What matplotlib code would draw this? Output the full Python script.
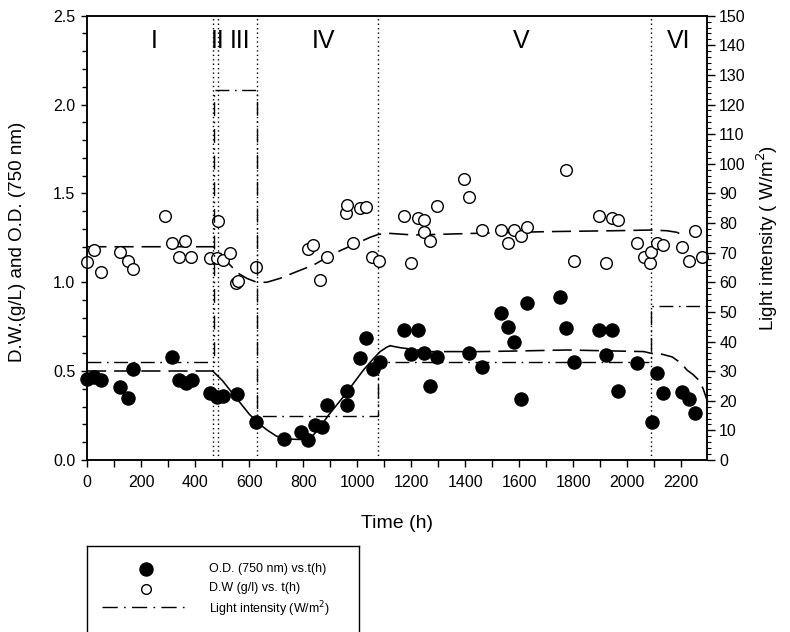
import matplotlib
matplotlib.use("Agg")
import matplotlib.pyplot as plt
from matplotlib.lines import Line2D
from matplotlib.ticker import MultipleLocator

plt.rcParams['font.family'] = ['Liberation Sans', 'DejaVu Sans']

# ---------------- data ----------------
od_t = [0, 25, 50, 121, 150, 168, 313, 338, 366, 388, 455, 480, 504, 554, 624,
        727, 792, 817, 842, 869, 888, 962, 964, 1009, 1032, 1057, 1083, 1174,
        1199, 1224, 1246, 1271, 1296, 1415, 1462, 1534, 1557, 1582, 1607, 1630,
        1750, 1775, 1803, 1895, 1921, 1944, 1965, 2037, 2093, 2109, 2134, 2205,
        2230, 2253]
od_v = [0.454, 0.469, 0.45, 0.409, 0.347, 0.512, 0.581, 0.45, 0.435, 0.45,
        0.375, 0.356, 0.36, 0.37, 0.212, 0.116, 0.156, 0.113, 0.197, 0.187,
        0.31, 0.39, 0.31, 0.572, 0.688, 0.512, 0.55, 0.732, 0.595, 0.732, 0.604,
        0.418, 0.581, 0.6, 0.525, 0.829, 0.747, 0.666, 0.343, 0.882, 0.915,
        0.743, 0.551, 0.732, 0.591, 0.732, 0.388, 0.544, 0.214, 0.491, 0.379,
        0.384, 0.343, 0.266]

dw_t = [0, 23, 50, 121, 150, 168, 288, 313, 341, 362, 384, 455, 480, 486, 504,
        527, 552, 558, 624, 817, 838, 863, 888, 959, 962, 984, 1009, 1032, 1054,
        1082, 1174, 1199, 1224, 1246, 1246, 1271, 1296, 1394, 1415, 1462, 1534,
        1557, 1582, 1607, 1630, 1775, 1803, 1895, 1921, 1944, 1965, 2037, 2062,
        2086, 2089, 2109, 2134, 2205, 2230, 2253, 2278]
dw_v = [1.112, 1.18, 1.06, 1.172, 1.12, 1.075, 1.373, 1.223, 1.144, 1.234,
        1.144, 1.135, 1.135, 1.345, 1.125, 1.163, 0.994, 1.005, 1.084, 1.186,
        1.21, 1.013, 1.14, 1.388, 1.435, 1.223, 1.416, 1.422, 1.144, 1.12,
        1.373, 1.11, 1.36, 1.35, 1.281, 1.234, 1.431, 1.581, 1.482, 1.294,
        1.294, 1.223, 1.294, 1.26, 1.31, 1.632, 1.12, 1.373, 1.11, 1.36, 1.35,
        1.223, 1.144, 1.11, 1.172, 1.223, 1.21, 1.2, 1.12, 1.29, 1.144]

# model curves
dw_fit_t = [0, 465, 480, 504, 529, 560, 591, 628, 665, 714, 776, 838, 888, 940,
            984, 1048, 1079, 1122, 1209, 1456, 1703, 1950, 2089, 2148, 2185, 2204]
dw_fit_v = [1.2, 1.2, 1.19, 1.144, 1.097, 1.05, 1.022, 1.0, 1.0, 1.022, 1.06,
            1.097, 1.14, 1.18, 1.21, 1.253, 1.27, 1.275, 1.266, 1.276, 1.285,
            1.29, 1.294, 1.29, 1.281, 1.266]

od_fit1_t = [0, 465]
od_fit1_v = [0.5, 0.5]
od_fit2_t = [465, 500, 550, 600, 640, 665, 700, 730, 760, 800, 826, 860, 894,
             949, 1023, 1060, 1085, 1110, 1122]
od_fit2_v = [0.5, 0.448, 0.353, 0.258, 0.2, 0.17, 0.135, 0.118, 0.117, 0.115,
             0.12, 0.18, 0.253, 0.356, 0.506, 0.57, 0.61, 0.635, 0.643]
od_fit3_t = [1122, 1159, 1271, 1456, 1580, 1777, 2062, 2090, 2130, 2167, 2200,
             2222, 2245, 2265, 2282, 2296]
od_fit3_v = [0.643, 0.632, 0.61, 0.61, 0.613, 0.619, 0.61, 0.6, 0.595, 0.58,
             0.545, 0.506, 0.48, 0.45, 0.4, 0.338]

light_t = [0, 470, 628, 1078, 2090, 2295]
light_v = [33, 125, 15, 33, 52, 52]

period_bounds = [465, 485, 628, 1078, 2090]
period_names = ['I', 'II', 'III', 'IV', 'V', 'VI']
period_pos = [248, 482, 566, 874, 1607, 2190]

x_ticks = list(range(0, 2201, 200))
y_ticks = [0.0, 0.5, 1.0, 1.5, 2.0, 2.5]
y2_ticks = list(range(0, 151, 10))

# ---------------- figure ----------------
W, H = 790, 632
fig = plt.figure(figsize=(W / 100, H / 100), dpi=100)
L, R, T, B = 87.3, 706.7, 15.7, 460
ax = fig.add_axes([L / W, (H - B) / H, (R - L) / W, (B - T) / H])
ax2 = ax.twinx()

dash_long = (12, 5)
dashdot = (10, 4, 1.2, 4)

for xb in period_bounds:
    ax.axvline(xb, color='black', lw=1.0, linestyle=(0, (1, 2.2)), zorder=1)

ax.plot(dw_fit_t, dw_fit_v, color='black', lw=1.15, dashes=dash_long, zorder=2)
ax.plot(od_fit1_t, od_fit1_v, color='black', lw=1.15, dashes=dash_long, zorder=2)
ax.plot(od_fit2_t, od_fit2_v, color='black', lw=1.15, linestyle='-', zorder=2)
ax.plot(od_fit3_t, od_fit3_v, color='black', lw=1.15, dashes=dash_long, zorder=2)

ax2.step(light_t, light_v, where='post', color='black', lw=1.0,
         dashes=dashdot, zorder=2)

ax.plot(od_t, od_v, linestyle='none', marker='o', ms=9.6, mfc='black',
        mec='black', mew=0.8, clip_on=False, zorder=4)
ax.plot(dw_t, dw_v, linestyle='none', marker='o', ms=8.4, mfc='white',
        mec='black', mew=1.0, clip_on=False, zorder=3)

for name, xp in zip(period_names, period_pos):
    ax.text(xp, 2.355, name, ha='center', va='center', fontsize=18)

ax.set_xlim(0, 2295)
ax.set_ylim(0, 2.5)
ax2.set_ylim(0, 150)

ax.set_xticks(x_ticks)
ax.xaxis.set_minor_locator(MultipleLocator(100))
ax.set_yticks(y_ticks)
ax.set_yticklabels([f'{v:.1f}' for v in y_ticks])
ax.yaxis.set_minor_locator(MultipleLocator(0.1))
ax2.set_yticks(y2_ticks)
ax2.yaxis.set_minor_locator(MultipleLocator(2))

ax.tick_params(axis='x', which='both', direction='out', length=5, width=1,
               labelsize=11.5, pad=6, top=False)
ax.tick_params(axis='y', which='major', direction='out', length=4.5, width=1,
               labelsize=11.5, pad=4)
ax.tick_params(axis='y', which='minor', direction='out', length=3.5, width=1)
ax2.tick_params(axis='y', which='major', direction='out', length=6, width=1,
                labelsize=11.5, pad=3)
ax2.tick_params(axis='y', which='minor', direction='out', length=3, width=0.8)

for a in (ax, ax2):
    for s in a.spines.values():
        s.set_linewidth(1.1)

ax.set_xlabel('Time (h)', fontsize=14)
ax.xaxis.label.set_va('center')
ax.xaxis.set_label_coords(0.5, (B - 523) / (B - T))
ax.set_ylabel('D.W.(g/L) and O.D. (750 nm)', fontsize=13.5)
ax.yaxis.label.set_va('center')
ax.yaxis.set_label_coords((18 - L) / (R - L), 0.49)
ax2.set_ylabel('Light intensity ( W/m$^2$)', fontsize=13.5)
ax2.yaxis.label.set_va('center')
ax2.yaxis.set_label_coords((767 - L) / (R - L), 0.5)

# ---------------- legend box (open at the bottom edge) ----------------
lg_l, lg_r, lg_t = 87.3, 359.3, 546
lax = fig.add_axes([lg_l / W, 0, (lg_r - lg_l) / W, (H - lg_t) / H])
lax.set_xlim(0, 1)
lax.set_ylim(0, 1)
lax.set_xticks([])
lax.set_yticks([])
lax.spines['bottom'].set_visible(False)
for s in ('top', 'left', 'right'):
    lax.spines[s].set_linewidth(1.0)
hgt = H - lg_t
ry = lambda py: (H - py) / hgt
rx = lambda px: (px - lg_l) / (lg_r - lg_l)
lax.add_line(Line2D([rx(145.7)], [ry(569)], marker='o', ms=9.4, mfc='black',
                    mec='black', linestyle='none'))
lax.add_line(Line2D([rx(145.7)], [ry(588.5)], marker='o', ms=7.0, mfc='white',
                    mec='black', mew=1.0, linestyle='none'))
lax.add_line(Line2D([rx(101.7), rx(186)], [ry(607), ry(607)], color='black',
                    lw=1.0, dashes=(11, 4.5, 1.2, 4.5)))
lax.text(rx(209.3), ry(569), 'O.D. (750 nm) vs.t(h)', fontsize=9, va='center')
lax.text(rx(209.3), ry(588.5), 'D.W (g/l) vs. t(h)', fontsize=9, va='center')
lax.text(rx(209.3), ry(609), 'Light intensity (W/m$^2$)', fontsize=9,
         va='center')

fig.savefig('out.png', dpi=100)
